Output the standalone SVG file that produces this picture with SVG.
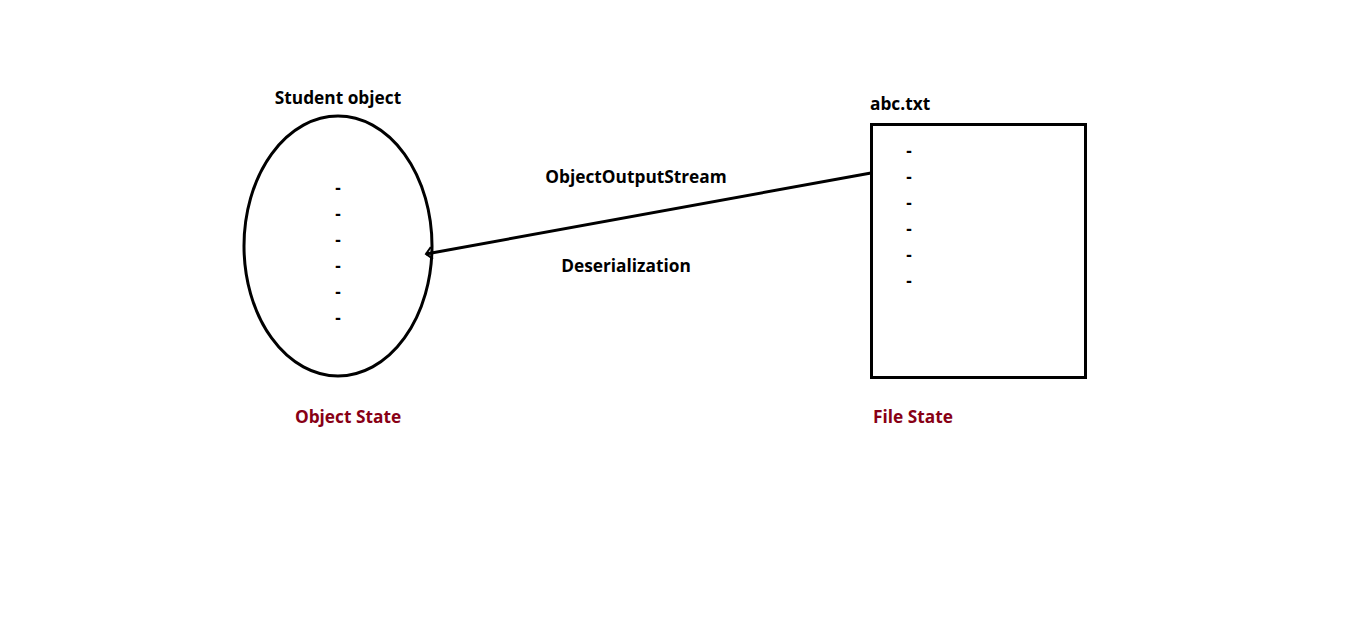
<svg xmlns="http://www.w3.org/2000/svg" width="1350" height="622" viewBox="0 0 1350 622">
<style>
text{font-family:"Open Sans","Noto Sans","DejaVu Sans",sans-serif;font-weight:bold;font-size:17.3px;fill:#000}
.red{fill:#880015}
.shape{fill:none;stroke:#000;stroke-width:3}
.dash{font-size:17px;text-anchor:middle}
</style>
<defs>
<marker id="ah" markerWidth="12" markerHeight="14" refX="8" refY="7" orient="auto" markerUnits="userSpaceOnUse">
<path d="M2,1 L8,7 L2,13" fill="none" stroke="#000" stroke-width="2"/>
</marker>
</defs>
<rect width="1350" height="622" fill="#fff"/>
<g id="student">
<text x="338" y="104" text-anchor="middle">Student object</text>
<ellipse class="shape" cx="338" cy="246" rx="94" ry="130"/>
<text class="dash" x="338" y="194">-</text>
<text class="dash" x="338" y="220">-</text>
<text class="dash" x="338" y="246">-</text>
<text class="dash" x="338" y="272">-</text>
<text class="dash" x="338" y="298">-</text>
<text class="dash" x="338" y="324">-</text>
<text class="red" x="348" y="423" text-anchor="middle">Object State</text>
</g>
<g id="file">
<text x="870" y="110">abc.txt</text>
<rect class="shape" x="871.5" y="124.5" width="214" height="253"/>
<text class="dash" x="909" y="157">-</text>
<text class="dash" x="909" y="183">-</text>
<text class="dash" x="909" y="209">-</text>
<text class="dash" x="909" y="235">-</text>
<text class="dash" x="909" y="261">-</text>
<text class="dash" x="909" y="287">-</text>
<text class="red" x="913" y="423" text-anchor="middle">File State</text>
</g>
<g id="connectors">
<line x1="871" y1="173" x2="426" y2="254" stroke="#000" stroke-width="3" marker-end="url(#ah)"/>
<text x="636" y="183" text-anchor="middle">ObjectOutputStream</text>
<text x="626" y="272" text-anchor="middle">Deserialization</text>
</g>
</svg>
